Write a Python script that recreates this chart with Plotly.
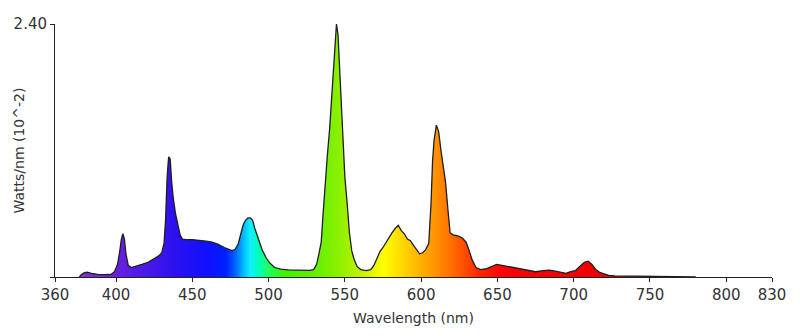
import plotly.graph_objects as go

# Spectral power distribution of a tri-phosphor fluorescent lamp
wavelength_nm = [
    376, 377, 379, 381, 384, 388, 393, 397, 399, 401, 402.5, 403.5, 404.5, 405.5,
    406.5, 408, 410, 413, 417, 421, 425, 428, 430, 431.5, 432.5, 433.5, 434.5,
    435.5, 436.5, 437.5, 439, 440.5, 442, 443.5, 446, 450, 455, 459, 463, 467,
    471, 474, 476, 478, 480, 482, 483.5, 485, 486.5, 488, 489.5, 491, 492.5, 494,
    496, 498.5, 501, 504, 508, 513, 518, 523, 527, 529.5, 531.5, 533, 534.5,
    535.5, 537, 538.5, 540, 541.5, 543, 544.5, 545.5, 547, 548.5, 550, 551.5,
    553, 554.5, 556, 558, 560.5, 564, 567, 569, 571, 573, 575, 577, 579, 581,
    583, 585, 587, 589, 591, 593, 595, 597, 599, 601, 603, 605, 606.5, 607.5,
    608.5, 610, 611.5, 613, 614.5, 616, 617.5, 619, 621, 624, 627, 629.5, 631.5,
    633.5, 636, 639, 643, 646, 649.5, 653, 657, 661, 666, 671, 675, 680, 684,
    688, 692, 695, 698, 701, 704, 707, 709.5, 712, 714.5, 717, 720, 723, 727,
    735, 750, 765, 775, 779, 780,
]
watts_per_nm = [
    0, 0.02, 0.04, 0.045, 0.035, 0.025, 0.022, 0.028, 0.05, 0.12, 0.25, 0.36,
    0.41, 0.36, 0.22, 0.11, 0.09, 0.10, 0.12, 0.14, 0.17, 0.20, 0.23, 0.32,
    0.55, 0.95, 1.14, 1.12, 0.90, 0.75, 0.60, 0.50, 0.40, 0.36, 0.355, 0.355,
    0.35, 0.34, 0.33, 0.31, 0.28, 0.26, 0.25, 0.26, 0.31, 0.42, 0.50, 0.54,
    0.56, 0.56, 0.54, 0.46, 0.40, 0.35, 0.25, 0.18, 0.13, 0.09, 0.075, 0.068,
    0.065, 0.062, 0.062, 0.07, 0.12, 0.22, 0.33, 0.55, 0.90, 1.15, 1.40, 1.70,
    2.05, 2.40, 2.30, 1.85, 1.35, 0.95, 0.70, 0.42, 0.25, 0.17, 0.10, 0.07,
    0.06, 0.07, 0.11, 0.17, 0.24, 0.28, 0.33, 0.38, 0.42, 0.46, 0.49, 0.44,
    0.41, 0.36, 0.345, 0.30, 0.26, 0.22, 0.23, 0.26, 0.32, 0.70, 1.10, 1.30,
    1.44, 1.38, 1.20, 1.05, 0.90, 0.65, 0.42, 0.40, 0.39, 0.37, 0.33, 0.25,
    0.16, 0.09, 0.07, 0.08, 0.10, 0.12, 0.11, 0.10, 0.085, 0.075, 0.06, 0.05,
    0.06, 0.065, 0.055, 0.04, 0.035, 0.05, 0.06, 0.10, 0.14, 0.15, 0.12, 0.07,
    0.045, 0.03, 0.015, 0.01, 0.009, 0.008, 0.008, 0.007, 0.006, 0,
]

x_ticks = [360, 400, 450, 500, 550, 600, 650, 700, 750, 800, 830]
y_ticks = [0, 2.40]
y_tick_text = ["", "2.40"]

# Approximate visible-spectrum colours by wavelength (nm -> colour)
spectrum_nm = [376, 400, 420, 440, 460, 472, 478, 484, 488, 493, 500, 510,
               530, 545, 560, 575, 590, 605, 615, 625, 640, 655, 780]
spectrum_rgb = ["#7d35c8", "#6a20e0", "#4a18e8", "#2a10f0", "#1010ff",
                "#0020ff", "#0060ff", "#00c0ff", "#10f0ff", "#00ffc0",
                "#20ff60", "#40f000", "#60f000", "#88f000", "#c0f000",
                "#ffff00", "#ffd000", "#ffa000", "#ff8000", "#ff5a00",
                "#ff2000", "#ff0000", "#e00000"]
lo, hi = spectrum_nm[0], spectrum_nm[-1]
colorscale = [[(w - lo) / (hi - lo), c] for w, c in zip(spectrum_nm, spectrum_rgb)]

fig = go.Figure()
fig.add_trace(go.Scatter(
    x=wavelength_nm,
    y=watts_per_nm,
    mode="lines",
    line=dict(color="#1e1e1e", width=1.3),
    fill="tozeroy",
    fillgradient=dict(type="horizontal", colorscale=colorscale, start=lo, stop=hi),
    cliponaxis=False,
    hoverinfo="x+y",
))

title_font = dict(family="DejaVu Sans", size=14, color="#333333")
tick_font = dict(family="DejaVu Sans", size=15, color="#333333")

fig.update_layout(
    width=800,
    height=336,
    margin=dict(l=55, r=28, t=24, b=59),
    paper_bgcolor="white",
    plot_bgcolor="white",
    showlegend=False,
    font=title_font,
    xaxis=dict(
        range=[360, 830],
        tickvals=x_ticks,
        ticktext=[str(v) for v in x_ticks],
        automargin=False,
        showgrid=False,
        zeroline=False,
        showline=True,
        linecolor="#222222",
        linewidth=1,
        ticks="outside",
        ticklen=4,
        tickcolor="#222222",
        tickfont=tick_font,
        title=dict(text="Wavelength (nm)", font=title_font, standoff=10),
    ),
    yaxis=dict(
        range=[0, 2.40],
        tickvals=y_ticks,
        ticktext=y_tick_text,
        automargin=False,
        showgrid=False,
        zeroline=False,
        showline=True,
        linecolor="#222222",
        linewidth=1,
        ticks="outside",
        ticklen=4,
        tickcolor="#222222",
        tickfont=tick_font,
    ),
    annotations=[dict(
        text="Watts/nm (10^-2)",
        textangle=-90,
        font=title_font,
        xref="paper", yref="paper",
        x=0, y=0.5,
        xanchor="center", yanchor="middle",
        xshift=-37,
        showarrow=False,
    )],
)

fig.write_html("out.html")
